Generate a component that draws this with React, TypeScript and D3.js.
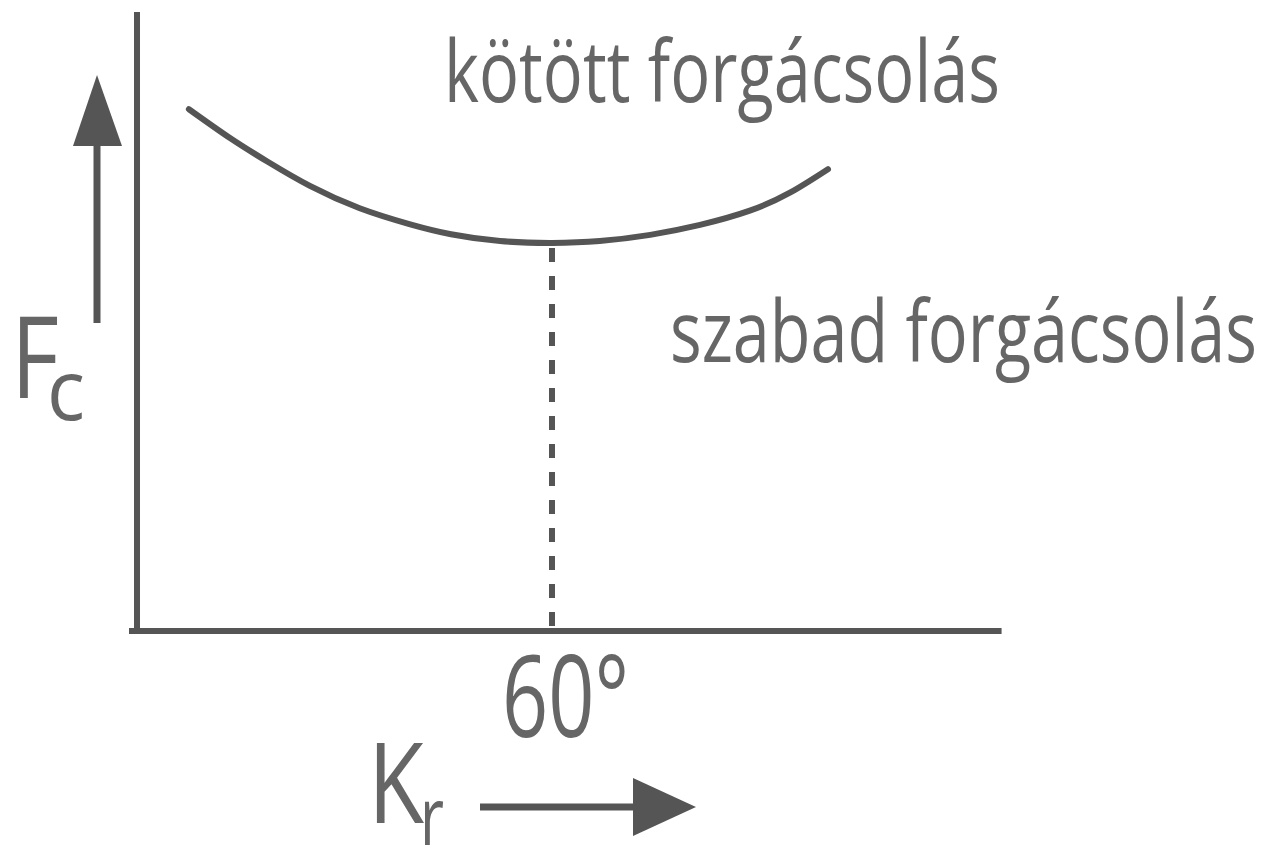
import React from "react";
import * as d3 from "d3";

// Kr (degrees) along the horizontal axis, Fc (relative units) on the vertical axis
const krValues = [7.5, 13.5, 18.9, 25.0, 32.2, 39.5, 45.4, 52.5, 60, 66.9, 74.2, 81.4, 88.6, 94.4, 99.9];
const fcValues = [84.3, 79.6, 75.8, 71.9, 68.3, 65.7, 64.1, 63.0, 62.7, 63.0, 64.0, 65.6, 67.9, 70.8, 74.6];
const markerKr = 60;
const markerLabel = "60°";
const topLabel = "kötött forgácsolás";
const sideLabel = "szabad forgácsolás";

const W = 1268;
const H = 845;
const LINE = "#555555";
const TEXT = "#666666";
const FONT = "'Open Sans', 'Noto Sans', sans-serif";

export default function App() {
  const x = d3.scaleLinear().domain([0, 60]).range([137, 552]);
  const y = d3.scaleLinear().domain([0, 100]).range([631, 12]);

  const pts: [number, number][] = krValues.map((k, i) => [x(k), y(fcValues[i])]);
  const curvePath = d3.line().curve(d3.curveNatural)(pts) || "";

  const idx = krValues.indexOf(markerKr);
  const markerY = y(fcValues[idx]);
  const xEnd = x(125);

  return (
    <svg
      width={W}
      height={H}
      viewBox={`0 0 ${W} ${H}`}
      style={{ position: "absolute", left: 0, top: 0, background: "#fff" }}
    >
      {/* axes */}
      <line x1={x(0)} y1={y(100)} x2={x(0)} y2={y(0) + 3} stroke={LINE} strokeWidth={6} />
      <line x1={x(0) - 8} y1={y(0)} x2={xEnd} y2={y(0)} stroke={LINE} strokeWidth={6} />

      {/* curve */}
      <path d={curvePath} fill="none" stroke={LINE} strokeWidth={6} strokeLinecap="round" />

      {/* dashed marker */}
      <line
        x1={x(markerKr)}
        y1={markerY}
        x2={x(markerKr)}
        y2={y(0)}
        stroke={LINE}
        strokeWidth={6}
        strokeDasharray="14 14"
        strokeDashoffset={23}
      />

      {/* vertical arrow (Fc) */}
      <line x1={97} y1={323} x2={97} y2={140} stroke={LINE} strokeWidth={7} />
      <path d="M97,75 L73,146 L122,146 Z" fill={LINE} />

      {/* horizontal arrow (Kr) */}
      <line x1={480} y1={807} x2={640} y2={807} stroke={LINE} strokeWidth={7} />
      <path d="M696,807 L633,778 L633,836 Z" fill={LINE} />

      {/* labels */}
      <g fontFamily={FONT} fontWeight={400} fill={TEXT}>
        <text x={444} y={102} fontSize={86} textLength={556} lengthAdjust="spacingAndGlyphs">
          {topLabel}
        </text>
        <text x={670} y={362} fontSize={86} textLength={587} lengthAdjust="spacingAndGlyphs">
          {sideLabel}
        </text>

        <text x={502} y={737} fontSize={114} textLength={127} lengthAdjust="spacingAndGlyphs">
          {markerLabel}
        </text>

        <text x={11} y={398} fontSize={114} textLength={48} lengthAdjust="spacingAndGlyphs">
          F
        </text>
        <text x={47} y={420} fontSize={84} textLength={38} lengthAdjust="spacingAndGlyphs">
          c
        </text>

        <text x={368} y={823} fontSize={112} textLength={56} lengthAdjust="spacingAndGlyphs">
          K
        </text>
        <text x={420} y={847} fontSize={84} textLength={24} lengthAdjust="spacingAndGlyphs">
          r
        </text>
      </g>
    </svg>
  );
}
